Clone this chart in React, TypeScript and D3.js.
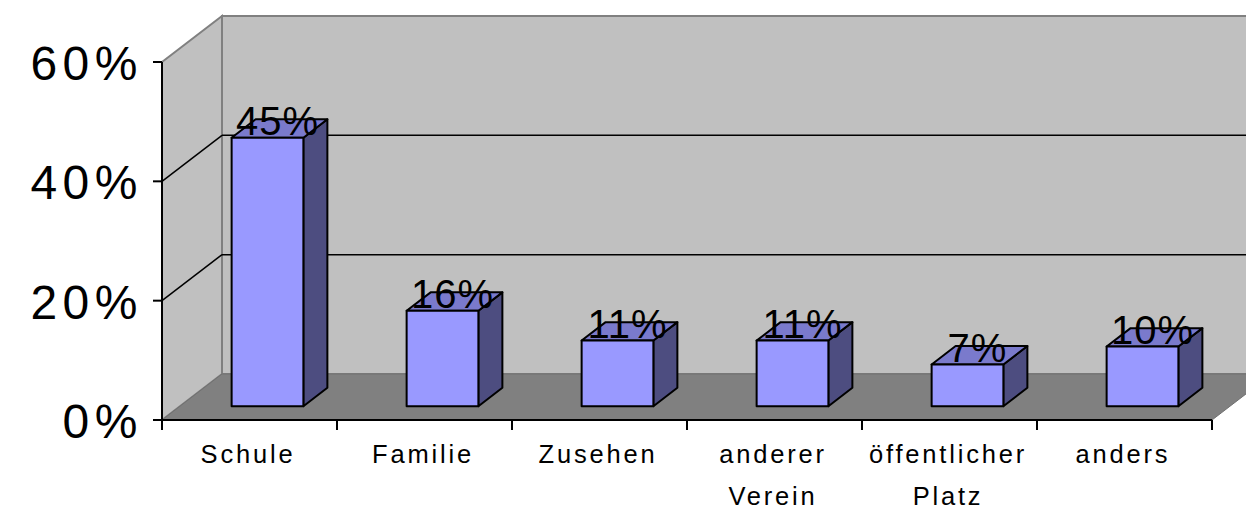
import * as d3 from 'd3';

const categories = ['Schule', 'Familie', 'Zusehen', 'anderer Verein', 'öffentlicher Platz', 'anders'];
const values = [45, 16, 11, 11, 7, 10];
const yTicks = [0, 20, 40, 60];
const gridValues = [20, 40];

const width = 1246;
const height = 511;
const font = 'Arial, "Liberation Sans", sans-serif';

// depth of the 3D box (back plane offset)
const depthX = 60;
const depthY = 46;
const barFront = 0.3;
const barBack = 0.7;

export default function App() {
  const x = d3.scaleBand<string>().domain(categories).range([162, 1212]).paddingInner(0);
  const y = d3.scaleLinear().domain([0, 60]).range([420, 62]);

  const proj = (px: number, py: number, d: number): [number, number] => [px + d * depthX, py - d * depthY];
  const poly = (pts: [number, number][]) => pts.map(p => p.join(',')).join(' ');

  const x0 = x.range()[0];
  const x1 = x.range()[1];
  const yTop = y(60);
  const yBase = y(0);
  const barW = x.bandwidth() * 0.41;

  return (
    <div style={{ position: 'absolute', left: 0, top: 0 }}>
      <svg width={width} height={height} style={{ display: 'block' }}>
        <rect width={width} height={height} fill="#ffffff" />

        {/* back wall */}
        <polygon
          points={poly([proj(x0, yTop, 1), proj(x1, yTop, 1), proj(x1, yBase, 1), proj(x0, yBase, 1)])}
          fill="#c0c0c0"
          stroke="#808080"
          strokeWidth={2}
        />
        {/* side wall */}
        <polygon
          points={poly([[x0, yTop], proj(x0, yTop, 1), proj(x0, yBase, 1), [x0, yBase]])}
          fill="#c0c0c0"
          stroke="#808080"
          strokeWidth={2}
        />
        {/* floor */}
        <polygon
          points={poly([[x0, yBase], [x1, yBase], proj(x1, yBase, 1), proj(x0, yBase, 1)])}
          fill="#808080"
          stroke="#707070"
          strokeWidth={1}
        />

        {/* gridlines */}
        {gridValues.map(v => {
          const a = proj(x0, y(v), 1);
          const b = proj(x1, y(v), 1);
          return (
            <g key={v}>
              <line x1={x0} y1={y(v)} x2={a[0]} y2={a[1]} stroke="#000" strokeWidth={1.5} />
              <line x1={a[0]} y1={a[1]} x2={b[0]} y2={b[1]} stroke="#000" strokeWidth={1.5} />
            </g>
          );
        })}

        {/* bars */}
        {values.map((v, i) => {
          const cx = (x(categories[i]) as number) + x.bandwidth() / 2;
          const l = cx - barW / 2;
          const r = cx + barW / 2;
          const f = (px: number, py: number) => proj(px, py, barFront);
          const b = (px: number, py: number) => proj(px, py, barBack);
          const top = y(v);
          return (
            <g key={categories[i]} stroke="#000" strokeWidth={2} strokeLinejoin="round">
              <polygon points={poly([f(r, yBase), b(r, yBase), b(r, top), f(r, top)])} fill="#4d4d80" />
              <polygon points={poly([f(l, top), f(r, top), b(r, top), b(l, top)])} fill="#7a7acc" />
              <polygon points={poly([f(l, yBase), f(r, yBase), f(r, top), f(l, top)])} fill="#9999ff" />
            </g>
          );
        })}

        {/* data labels */}
        {values.map((v, i) => {
          const cx = (x(categories[i]) as number) + x.bandwidth() / 2;
          const [lx, ly] = proj(cx, y(v), barFront);
          return (
            <text
              key={categories[i]}
              x={lx + 10}
              y={ly - 2.5}
              textAnchor="middle"
              fontFamily={font}
              fontSize={40}
              letterSpacing={1}
              fill="#000"
            >
              {v}%
            </text>
          );
        })}

        {/* value axis */}
        <line x1={x0} y1={yTop} x2={x0} y2={yBase} stroke="#000" strokeWidth={2} />
        {yTicks.map(t => (
          <g key={t}>
            <line x1={x0 - 9} y1={y(t)} x2={x0} y2={y(t)} stroke="#000" strokeWidth={2} />
            <text
              x={143}
              y={y(t) + 18}
              textAnchor="end"
              fontFamily={font}
              fontSize={48}
              letterSpacing={5.5}
              fill="#000"
            >
              {t}%
            </text>
          </g>
        ))}

        {/* category axis */}
        <line x1={x0} y1={yBase} x2={x1} y2={yBase} stroke="#000" strokeWidth={2} />
        {[...categories.map(c => x(c) as number), x1].map((t, i) => (
          <line key={i} x1={t} y1={yBase} x2={t} y2={yBase + 10} stroke="#000" strokeWidth={2} />
        ))}
        {categories.map(c => {
          const cx = (x(c) as number) + x.bandwidth() / 2;
          const lines = c.split(' ');
          return (
            <text
              key={c}
              textAnchor="middle"
              fontFamily={font}
              fontSize={25.5}
              letterSpacing={2.8}
              fill="#000"
            >
              {lines.map((s, j) => (
                <tspan key={j} x={cx - 1.5} y={463 + j * 42}>
                  {s}
                </tspan>
              ))}
            </text>
          );
        })}
      </svg>
    </div>
  );
}
